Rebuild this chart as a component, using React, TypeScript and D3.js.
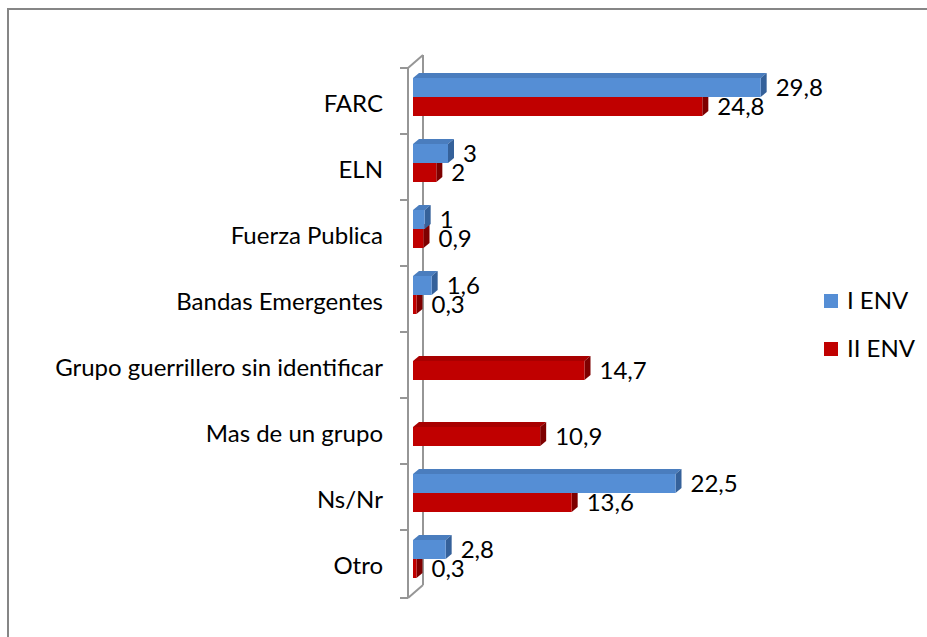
import React from 'react';
import { scaleBand, scaleLinear } from 'd3';

const categories = ['FARC', 'ELN', 'Fuerza Publica', 'Bandas Emergentes', 'Grupo guerrillero sin identificar', 'Mas de un grupo', 'Ns/Nr', 'Otro'];
const seriesNames = ['I ENV', 'II ENV'];
const envI: (number | null)[] = [29.8, 3, 1, 1.6, null, null, 22.5, 2.8];
const envII: (number | null)[] = [24.8, 2, 0.9, 0.3, 14.7, 10.9, 13.6, 0.3];

const colors = [
  { front: '#558ED5', top: '#4A7DBE', side: '#35619A' },
  { front: '#C00000', top: '#A80000', side: '#7E0000' },
];

const fmt = (v: number) => String(v).replace('.', ',');

const App = () => {
  const width = 927;
  const height = 637;
  const axisX = 408;
  const plotTop = 68;
  const plotBottom = 596;
  const wallDx = 15;
  const wallDy = -13;
  const barDx = 6;
  const barDy = -5;
  const barH = 19;
  const font = 'Lato, "Open Sans", sans-serif';
  const fontSize = 24;

  const yScale = scaleBand()
    .domain(categories)
    .range([plotTop, plotBottom]);

  const xScale = scaleLinear()
    .domain([0, 30])
    .range([413, 763]);

  const series = [envI, envII];
  const bw = yScale.bandwidth();
  const ticks = categories.map(c => yScale(c) as number).concat([plotBottom]);

  return (
    <svg width={width} height={height} style={{ position: 'absolute', left: 0, top: 0 }}>
      <rect x={8} y={9} width={960} height={680} fill="#fff" stroke="#868686" strokeWidth={2} />

      {/* wall */}
      <g stroke="#969696" strokeWidth={2} fill="none">
        <line x1={axisX + wallDx} y1={plotTop + wallDy} x2={axisX + wallDx} y2={plotBottom + 2 + wallDy} />
        <line x1={axisX} y1={plotTop} x2={axisX + wallDx} y2={plotTop + wallDy} />
        <line x1={axisX} y1={plotBottom + 2} x2={axisX + wallDx} y2={plotBottom + 2 + wallDy} />
        <line x1={axisX} y1={plotTop} x2={axisX} y2={plotBottom + 2} />
        {ticks.map((t, i) => (
          <line key={`tick-${i}`} x1={axisX - 8} x2={axisX} y1={i === ticks.length - 1 ? t + 2 : t} y2={i === ticks.length - 1 ? t + 2 : t} />
        ))}
      </g>

      {categories.map((cat, ci) => {
        const y0 = yScale(cat) as number;
        return (
          <g key={`cat-${cat}`}>
            <text
              x={383}
              y={y0 + bw / 2 + 3}
              dy="0.35em"
              textAnchor="end"
              fontFamily={font}
              fontSize={fontSize}
              fill="#000"
            >
              {cat}
            </text>
            {[1, 0].map(si => {
              const v = series[si][ci];
              if (v == null) return null;
              const x0 = xScale(0);
              const x1 = xScale(v);
              const top = y0 + 10 + si * barH;
              const c = colors[si];
              return (
                <g key={`bar-${cat}-${si}`}>
                  <polygon
                    points={`${x0},${top} ${x0 + barDx},${top + barDy} ${x1 + barDx},${top + barDy} ${x1},${top}`}
                    fill={c.top}
                  />
                  <polygon
                    points={`${x1},${top} ${x1 + barDx},${top + barDy} ${x1 + barDx},${top + barH + barDy} ${x1},${top + barH}`}
                    fill={c.side}
                  />
                  <rect x={x0} y={top} width={x1 - x0} height={barH} fill={c.front} />
                </g>
              );
            })}
            {[0, 1].map(si => {
              const v = series[si][ci];
              if (v == null) return null;
              const top = y0 + 10 + si * barH;
              return (
                <text
                  key={`val-${cat}-${si}`}
                  x={xScale(v) + 15}
                  y={top + barH / 2}
                  dy="0.35em"
                  fontFamily={font}
                  fontSize={fontSize}
                  fill="#000"
                >
                  {fmt(v)}
                </text>
              );
            })}
          </g>
        );
      })}

      {/* legend */}
      {seriesNames.map((name, i) => (
        <g key={`legend-${name}`} transform={`translate(824, ${294 + i * 48})`}>
          <rect width={14} height={14} fill={colors[i].front} />
          <text x={23} y={7} dy="0.35em" fontFamily={font} fontSize={fontSize} fill="#000">
            {name}
          </text>
        </g>
      ))}
    </svg>
  );
};

export default App;
